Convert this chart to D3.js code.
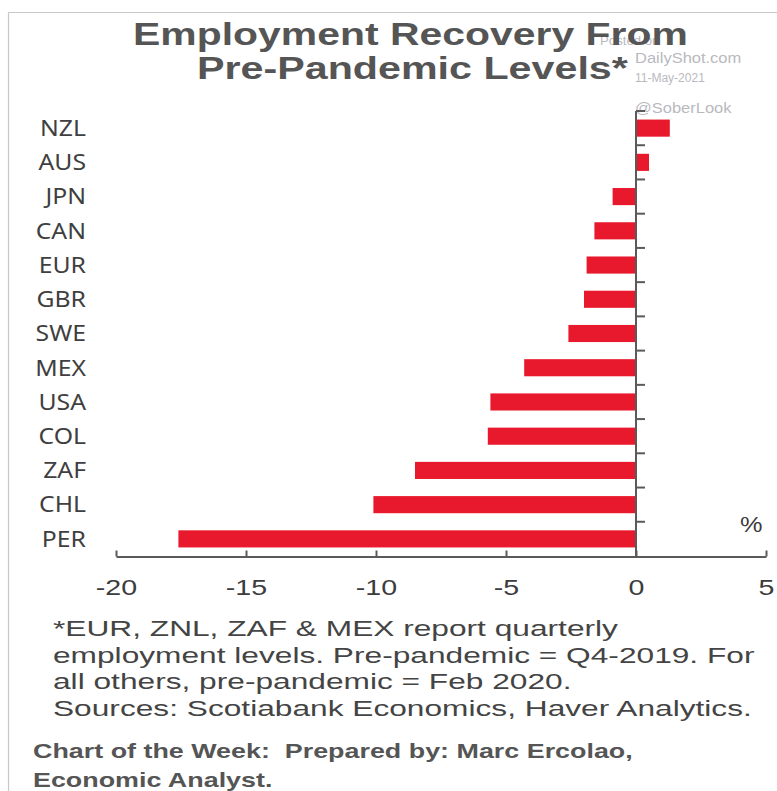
<!DOCTYPE html>
<html>
<head>
<meta charset="utf-8">
<script src="https://cdn.jsdelivr.net/npm/d3@7"></script>
<style>
  html, body { margin: 0; padding: 0; background: #fff; }
  svg { display: block; }
  text { white-space: pre; }
</style>
</head>
<body>
<svg id="chart" width="777" height="791"></svg>
<script>
// Employment change vs. pre-pandemic level, %
const countries = ["NZL", "AUS", "JPN", "CAN", "EUR", "GBR", "SWE", "MEX", "USA", "COL", "ZAF", "CHL", "PER"];
const changePct = [1.3, 0.5, -0.9, -1.6, -1.9, -2.0, -2.6, -4.3, -5.6, -5.7, -8.5, -10.1, -17.6];
const xTicks = [-20, -15, -10, -5, 0, 5];

const titleLines = ["Employment Recovery From", "Pre-Pandemic Levels*"];
const noteLines = [
  "*EUR, ZNL, ZAF & MEX report quarterly",
  "employment levels. Pre-pandemic = Q4-2019. For",
  "all others, pre-pandemic = Feb 2020.",
  "Sources: Scotiabank Economics, Haver Analytics."
];
const creditLines = ["Chart of the Week:  Prepared by: Marc Ercolao,", "Economic Analyst."];
const stampLines = ["Posted on", "DailyShot.com", "11-May-2021", "@SoberLook"];

const svg = d3.select("#chart");
const axisColor = "#5a5a5a";
const barColor = "#e8192c";
const sans = "Liberation Sans, Arial, sans-serif";

// place a text at (x, y) and widen it horizontally by sx
function wideText(parent, str, x, y, sx, anchor) {
  return parent.append("text")
    .attr("transform", `translate(${x},${y}) scale(${sx},1)`)
    .attr("text-anchor", anchor || "start")
    .text(str);
}
// horizontal factor that makes a text span the given width
function fitFactor(node, width) {
  return width / node.getComputedTextLength();
}

// frame
svg.append("line").attr("x1", 8.5).attr("x2", 777).attr("y1", 12.5).attr("y2", 12.5)
  .attr("stroke", "#c8c8c8").attr("stroke-width", 1.2);
svg.append("line").attr("x1", 8.5).attr("x2", 8.5).attr("y1", 12.5).attr("y2", 791)
  .attr("stroke", "#c8c8c8").attr("stroke-width", 1.2);

// watermark stamp
const stamp = svg.append("g").attr("font-family", sans).attr("fill", "#b9b9c0");
wideText(stamp, stampLines[0], 600, 45, 1.1).attr("font-size", 12);
wideText(stamp, stampLines[1], 635, 63, 1.1).attr("font-size", 15);
wideText(stamp, stampLines[2], 635, 82, 1.0).attr("font-size", 12);
wideText(stamp, stampLines[3], 635, 113, 1.1).attr("font-size", 15);

// title
const title = svg.append("g").attr("font-family", sans)
  .attr("font-weight", "bold").attr("font-size", 31).attr("fill", "#555555");
const titleSpec = [{x: 133, y: 45, w: 555}, {x: 197, y: 79, w: 431}];
titleLines.forEach((t, i) => {
  const el = wideText(title, t, titleSpec[i].x, titleSpec[i].y, 1);
  const sx = fitFactor(el.node(), titleSpec[i].w);
  el.attr("transform", `translate(${titleSpec[i].x},${titleSpec[i].y}) scale(${sx},1)`);
});

// scales
const x = d3.scaleLinear().domain([-20, 5]).range([116, 766]);
const y = d3.scaleBand().domain(countries).range([111, 556]).paddingInner(0.5).paddingOuter(0.25);
const data = countries.map((c, i) => ({c, v: changePct[i]}));

// bars
svg.append("g").selectAll("rect").data(data).join("rect")
  .attr("x", d => x(Math.min(0, d.v)))
  .attr("width", d => Math.abs(x(d.v) - x(0)))
  .attr("y", d => y(d.c))
  .attr("height", y.bandwidth())
  .attr("fill", barColor);

// x axis
const xAxis = svg.append("g").attr("transform", `translate(0,${y.range()[1] + 0.5})`)
  .call(d3.axisBottom(x).tickValues(xTicks).tickFormat(d3.format("d")).tickSizeInner(-6).tickSizeOuter(0).tickPadding(23));
xAxis.select(".domain").attr("stroke", axisColor).attr("stroke-width", 2);
xAxis.selectAll(".tick line").attr("stroke", axisColor).attr("stroke-width", 2);
xAxis.selectAll(".tick text")
  .attr("font-family", sans).attr("font-size", 22)
  .attr("fill", "#3c3c3c")
  .attr("transform", "scale(1.3,1)")
  .text(d => d < 0 ? "-" + Math.abs(d) : d);

// zero line with ticks between categories
const zero = svg.append("g");
zero.append("line").attr("x1", x(0)).attr("x2", x(0))
  .attr("y1", y.range()[0]).attr("y2", y.range()[1] + 1)
  .attr("stroke", axisColor).attr("stroke-width", 2);
const boundaries = d3.range(countries.length).map(i => y.range()[0] + i * y.step());
zero.selectAll("line.tk").data(boundaries).join("line").attr("class", "tk")
  .attr("x1", x(0)).attr("x2", x(0) + 9)
  .attr("y1", d => d).attr("y2", d => d)
  .attr("stroke", axisColor).attr("stroke-width", 2);

// category labels
const cats = svg.append("g").attr("font-family", "Noto Sans, Open Sans, sans-serif")
  .attr("font-size", 21).attr("fill", "#3f3f3f");
countries.forEach(c => {
  wideText(cats, c, 86, y(c) + y.bandwidth() / 2, 1.18, "end").attr("dy", "0.37em");
});

// unit label
wideText(svg, "%", 740, 532, 1.15).attr("font-family", sans).attr("font-size", 22).attr("fill", "#3c3c3c");

// footnote
const note = svg.append("g").attr("font-family", sans).attr("font-size", 22).attr("fill", "#444444");
const noteEls = noteLines.map((t, i) => wideText(note, t, 53, 636 + i * 26.5, 1));
const noteSx = fitFactor(noteEls[3].node(), 699);
noteEls.forEach((el, i) => el.attr("transform", `translate(53,${636 + i * 26.5}) scale(${noteSx},1)`));

// credit
const credit = svg.append("g").attr("font-family", sans)
  .attr("font-weight", "bold").attr("font-size", 21).attr("fill", "#555555");
const creditEls = creditLines.map((t, i) => wideText(credit, t, 33, 758 + i * 29, 1));
const creditSx = fitFactor(creditEls[0].node(), 600);
creditEls.forEach((el, i) => el.attr("transform", `translate(33,${758 + i * 29}) scale(${creditSx},1)`));
</script>
</body>
</html>
